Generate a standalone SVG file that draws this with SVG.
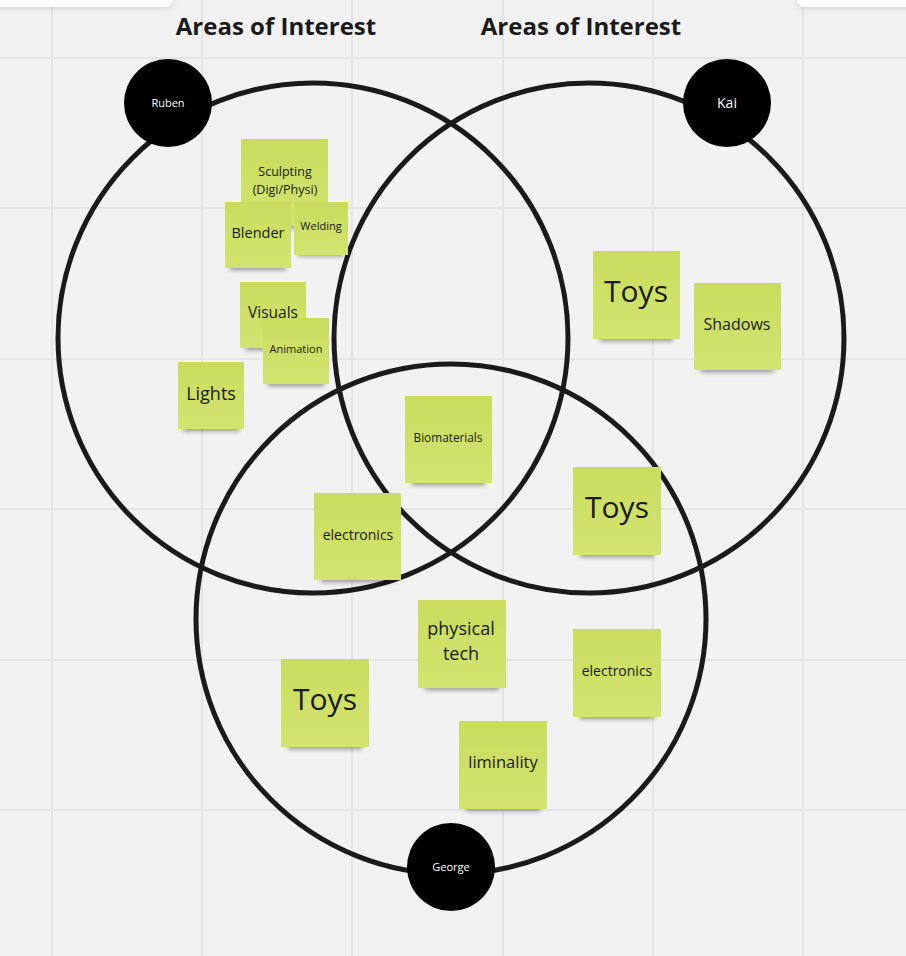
<svg xmlns="http://www.w3.org/2000/svg" width="906" height="956" viewBox="0 0 906 956">
<defs>
<linearGradient id="ng" x1="0" y1="0" x2="0" y2="1">
<stop offset="0" stop-color="#c9dc5d"/>
<stop offset="1" stop-color="#d3e470"/>
</linearGradient>
<filter id="blur" x="-30%" y="-100%" width="160%" height="300%">
<feGaussianBlur stdDeviation="2.5"/>
</filter>
<filter id="pshadow" x="-20%" y="-100%" width="140%" height="400%">
<feDropShadow dx="0" dy="2" stdDeviation="3" flood-color="#000" flood-opacity="0.12"/>
</filter>
</defs>
<style>
.grid{stroke:#e4e4e4;stroke-width:2}
.set{fill:none;stroke:#1a1a1a;stroke-width:5}
.note{fill:url(#ng)}
.sh{fill:#000;opacity:0.4;filter:url(#blur)}
.t{font-family:"Open Sans","Noto Sans","Liberation Sans",sans-serif;fill:#1a1a1a;text-anchor:middle}
.title{font-family:"Open Sans","Noto Sans","Liberation Sans",sans-serif;font-weight:bold;font-size:24px;fill:#1a1a1a;text-anchor:middle}
.person{fill:#000}
.pl{font-family:"Open Sans","Noto Sans","Liberation Sans",sans-serif;fill:#fff;text-anchor:middle}
</style>
<rect width="906" height="956" fill="#f2f2f2"/>
<g id="grid">
<line class="grid" x1="52" y1="0" x2="52" y2="956"/>
<line class="grid" x1="202" y1="0" x2="202" y2="956"/>
<line class="grid" x1="352" y1="0" x2="352" y2="956"/>
<line class="grid" x1="503" y1="0" x2="503" y2="956"/>
<line class="grid" x1="653" y1="0" x2="653" y2="956"/>
<line class="grid" x1="803" y1="0" x2="803" y2="956"/>
<line class="grid" x1="0" y1="58" x2="906" y2="58"/>
<line class="grid" x1="0" y1="208" x2="906" y2="208"/>
<line class="grid" x1="0" y1="359" x2="906" y2="359"/>
<line class="grid" x1="0" y1="509" x2="906" y2="509"/>
<line class="grid" x1="0" y1="660" x2="906" y2="660"/>
<line class="grid" x1="0" y1="810" x2="906" y2="810"/>
</g>
<g id="panels">
<rect x="-10" y="-12" width="183" height="19" rx="8" fill="#fff" filter="url(#pshadow)"/>
<rect x="797" y="-12" width="130" height="19" rx="8" fill="#fff" filter="url(#pshadow)"/>
</g>
<g id="titles">
<text class="title" x="276" y="35">Areas of Interest</text>
<text class="title" x="581" y="35">Areas of Interest</text>
</g>
<g id="connectors">
<circle class="set" cx="313" cy="338" r="255"/>
<circle class="set" cx="589" cy="338" r="255"/>
<circle class="set" cx="451" cy="619" r="255"/>
</g>
<g id="ruben"><circle class="person" cx="168" cy="103" r="44"/><text class="pl" x="168" y="107" font-size="11">Ruben</text></g>
<g id="kai"><circle class="person" cx="727" cy="103" r="44"/><text class="pl" x="727" y="108" font-size="14">Kai</text></g>
<g id="george"><circle class="person" cx="451" cy="867" r="44"/><text class="pl" x="451" y="871" font-size="11">George</text></g>

<g id="n-sculpting"><rect class="sh" x="247" y="220" width="75" height="8"/><rect class="note" x="241" y="139" width="87" height="87"/><text class="t" x="285" y="176" font-size="12.5">Sculpting</text><text class="t" x="285" y="194" font-size="12.5">(Digi/Physi)</text></g>
<g id="n-blender"><rect class="sh" x="230" y="263" width="56" height="7"/><rect class="note" x="225" y="202" width="66" height="66"/><text class="t" x="258" y="238" font-size="14.5">Blender</text></g>
<g id="n-welding"><rect class="sh" x="298" y="250" width="46" height="6"/><rect class="note" x="294" y="202" width="54" height="53"/><text class="t" x="321" y="230" font-size="11">Welding</text></g>
<g id="n-visuals"><rect class="sh" x="245" y="343" width="56" height="7"/><rect class="note" x="240" y="282" width="66" height="66"/><text class="t" x="273" y="318" font-size="15.5">Visuals</text></g>
<g id="n-animation"><rect class="sh" x="268" y="379" width="56" height="7"/><rect class="note" x="263" y="318" width="66" height="66"/><text class="t" x="296" y="353" font-size="11">Animation</text></g>
<g id="n-lights"><rect class="sh" x="183" y="424" width="56" height="7"/><rect class="note" x="178" y="362" width="66" height="67"/><text class="t" x="211" y="400" font-size="18">Lights</text></g>
<g id="n-toys-kai"><rect class="sh" x="600" y="333" width="73" height="8"/><rect class="note" x="593" y="251" width="87" height="88"/><text class="t" x="636" y="302" font-size="30">Toys</text></g>
<g id="n-shadows"><rect class="sh" x="701" y="364" width="73" height="8"/><rect class="note" x="694" y="283" width="87" height="87"/><text class="t" x="737" y="330" font-size="16">Shadows</text></g>
<g id="n-biomaterials"><rect class="sh" x="412" y="477" width="73" height="8"/><rect class="note" x="405" y="396" width="87" height="87"/><text class="t" x="448" y="442" font-size="11.8">Biomaterials</text></g>
<g id="n-toys-mid"><rect class="sh" x="580" y="549" width="74" height="8"/><rect class="note" x="573" y="467" width="88" height="88"/><text class="t" x="617" y="518" font-size="30">Toys</text></g>
<g id="n-electronics-1"><rect class="sh" x="321" y="574" width="73" height="8"/><rect class="note" x="314" y="493" width="87" height="87"/><text class="t" x="358" y="540" font-size="14">electronics</text></g>
<g id="n-physical-tech"><rect class="sh" x="425" y="682" width="74" height="8"/><rect class="note" x="418" y="600" width="88" height="88"/><text class="t" x="461" y="635" font-size="18">physical</text><text class="t" x="461" y="660" font-size="18">tech</text></g>
<g id="n-electronics-2"><rect class="sh" x="580" y="711" width="74" height="8"/><rect class="note" x="573" y="629" width="88" height="88"/><text class="t" x="617" y="676" font-size="14">electronics</text></g>
<g id="n-toys-george"><rect class="sh" x="288" y="741" width="74" height="8"/><rect class="note" x="281" y="659" width="88" height="88"/><text class="t" x="325" y="710" font-size="30">Toys</text></g>
<g id="n-liminality"><rect class="sh" x="466" y="803" width="74" height="8"/><rect class="note" x="459" y="721" width="88" height="88"/><text class="t" x="503" y="768" font-size="16.5">liminality</text></g>
</svg>
